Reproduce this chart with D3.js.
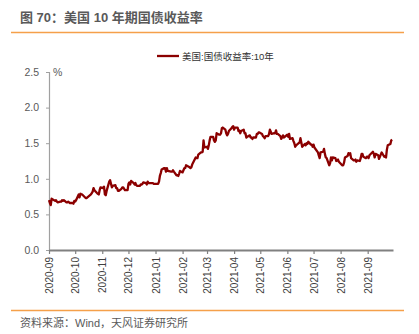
<!DOCTYPE html>
<html><head><meta charset="utf-8">
<script src="https://cdn.jsdelivr.net/npm/d3@7"></script>
<style>
html,body{margin:0;padding:0;background:#fff;}
svg{display:block;font-family:"Liberation Sans","Noto Sans CJK SC",sans-serif;}
</style></head>
<body><svg id="c" width="419" height="334"></svg>
<script>
const title = "图 70：美国 10 年期国债收益率";
const source = "资料来源：Wind，天风证券研究所";
const seriesName = "美国:国债收益率:10年";
const unitLabel = "%";
const yTicks = [0, 0.5, 1.0, 1.5, 2.0, 2.5];
const xTickLabels = ["2020-09","2020-10","2020-11","2020-12","2021-01","2021-02","2021-03","2021-04","2021-05","2021-06","2021-07","2021-08","2021-09"];

const dates = [
"2020-09-01","2020-09-02","2020-09-03","2020-09-04","2020-09-08","2020-09-09","2020-09-10","2020-09-11","2020-09-14","2020-09-15","2020-09-16","2020-09-17","2020-09-18","2020-09-21","2020-09-22","2020-09-23","2020-09-24","2020-09-25","2020-09-28","2020-09-29","2020-09-30",
"2020-10-01","2020-10-02","2020-10-05","2020-10-06","2020-10-07","2020-10-08","2020-10-09","2020-10-13","2020-10-14","2020-10-15","2020-10-16","2020-10-19","2020-10-20","2020-10-21","2020-10-22","2020-10-23","2020-10-26","2020-10-27","2020-10-28","2020-10-29","2020-10-30",
"2020-11-02","2020-11-03","2020-11-04","2020-11-05","2020-11-06","2020-11-09","2020-11-10","2020-11-12","2020-11-13","2020-11-16","2020-11-17","2020-11-18","2020-11-19","2020-11-20","2020-11-23","2020-11-24","2020-11-25","2020-11-27","2020-11-30",
"2020-12-01","2020-12-02","2020-12-03","2020-12-04","2020-12-07","2020-12-08","2020-12-09","2020-12-10","2020-12-11","2020-12-14","2020-12-15","2020-12-16","2020-12-17","2020-12-18","2020-12-21","2020-12-22","2020-12-23","2020-12-24","2020-12-28","2020-12-29","2020-12-30","2020-12-31",
"2021-01-04","2021-01-05","2021-01-06","2021-01-07","2021-01-08","2021-01-11","2021-01-12","2021-01-13","2021-01-14","2021-01-15","2021-01-19","2021-01-20","2021-01-21","2021-01-22","2021-01-25","2021-01-26","2021-01-27","2021-01-28","2021-01-29",
"2021-02-01","2021-02-02","2021-02-03","2021-02-04","2021-02-05","2021-02-08","2021-02-09","2021-02-10","2021-02-11","2021-02-12","2021-02-16","2021-02-17","2021-02-18","2021-02-19","2021-02-22","2021-02-23","2021-02-24","2021-02-25","2021-02-26",
"2021-03-01","2021-03-02","2021-03-03","2021-03-04","2021-03-05","2021-03-08","2021-03-09","2021-03-10","2021-03-11","2021-03-12","2021-03-15","2021-03-16","2021-03-17","2021-03-18","2021-03-19","2021-03-22","2021-03-23","2021-03-24","2021-03-25","2021-03-26","2021-03-29","2021-03-30","2021-03-31",
"2021-04-01","2021-04-02","2021-04-05","2021-04-06","2021-04-07","2021-04-08","2021-04-09","2021-04-12","2021-04-13","2021-04-14","2021-04-15","2021-04-16","2021-04-19","2021-04-20","2021-04-21","2021-04-22","2021-04-23","2021-04-26","2021-04-27","2021-04-28","2021-04-29","2021-04-30",
"2021-05-03","2021-05-04","2021-05-05","2021-05-06","2021-05-07","2021-05-10","2021-05-11","2021-05-12","2021-05-13","2021-05-14","2021-05-17","2021-05-18","2021-05-19","2021-05-20","2021-05-21","2021-05-24","2021-05-25","2021-05-26","2021-05-27","2021-05-28",
"2021-06-01","2021-06-02","2021-06-03","2021-06-04","2021-06-07","2021-06-08","2021-06-09","2021-06-10","2021-06-11","2021-06-14","2021-06-15","2021-06-16","2021-06-17","2021-06-18","2021-06-21","2021-06-22","2021-06-23","2021-06-24","2021-06-25","2021-06-28","2021-06-29","2021-06-30",
"2021-07-01","2021-07-02","2021-07-06","2021-07-07","2021-07-08","2021-07-09","2021-07-12","2021-07-13","2021-07-14","2021-07-15","2021-07-16","2021-07-19","2021-07-20","2021-07-21","2021-07-22","2021-07-23","2021-07-26","2021-07-27","2021-07-28","2021-07-29","2021-07-30",
"2021-08-02","2021-08-03","2021-08-04","2021-08-05","2021-08-06","2021-08-09","2021-08-10","2021-08-11","2021-08-12","2021-08-13","2021-08-16","2021-08-17","2021-08-18","2021-08-19","2021-08-20","2021-08-23","2021-08-24","2021-08-25","2021-08-26","2021-08-27","2021-08-30","2021-08-31",
"2021-09-01","2021-09-02","2021-09-03","2021-09-07","2021-09-08","2021-09-09","2021-09-10","2021-09-13","2021-09-14","2021-09-15","2021-09-16","2021-09-17","2021-09-20","2021-09-21","2021-09-22","2021-09-23","2021-09-24","2021-09-27","2021-09-28","2021-09-29"
];
const values = [
0.70,0.66,0.63,0.72,0.69,0.70,0.68,0.67,0.68,0.68,0.70,0.69,0.70,0.67,0.67,0.68,0.67,0.66,0.66,0.65,0.69,
0.68,0.70,0.78,0.74,0.79,0.78,0.78,0.73,0.73,0.74,0.75,0.78,0.80,0.82,0.87,0.84,0.80,0.79,0.78,0.84,0.88,
0.87,0.89,0.78,0.77,0.83,0.96,0.98,0.88,0.90,0.91,0.87,0.87,0.83,0.83,0.86,0.88,0.88,0.84,0.84,
0.93,0.95,0.92,0.97,0.94,0.92,0.94,0.91,0.90,0.90,0.92,0.92,0.93,0.95,0.94,0.92,0.96,0.94,0.94,0.94,0.93,0.93,
0.93,0.96,1.04,1.08,1.13,1.15,1.15,1.10,1.15,1.11,1.10,1.10,1.12,1.10,1.05,1.05,1.04,1.07,1.11,
1.09,1.12,1.15,1.15,1.19,1.17,1.16,1.15,1.16,1.20,1.30,1.29,1.29,1.34,1.37,1.37,1.38,1.54,1.44,
1.45,1.42,1.47,1.54,1.59,1.59,1.54,1.52,1.54,1.64,1.62,1.62,1.64,1.71,1.72,1.69,1.64,1.61,1.63,1.67,1.71,1.73,1.74,
1.69,1.72,1.72,1.67,1.68,1.64,1.67,1.69,1.64,1.64,1.58,1.59,1.61,1.58,1.58,1.56,1.58,1.58,1.63,1.63,1.65,1.65,
1.63,1.60,1.59,1.57,1.60,1.60,1.63,1.69,1.66,1.63,1.64,1.64,1.68,1.63,1.63,1.60,1.56,1.58,1.61,1.58,
1.62,1.59,1.63,1.56,1.57,1.53,1.50,1.45,1.47,1.50,1.51,1.57,1.51,1.45,1.49,1.47,1.50,1.49,1.52,1.48,1.48,1.45,
1.48,1.44,1.37,1.33,1.29,1.37,1.38,1.42,1.35,1.30,1.29,1.19,1.22,1.30,1.26,1.30,1.29,1.25,1.26,1.27,1.24,
1.20,1.19,1.19,1.23,1.30,1.32,1.36,1.34,1.36,1.29,1.26,1.26,1.27,1.24,1.26,1.25,1.29,1.35,1.35,1.31,1.29,1.31,
1.31,1.29,1.33,1.38,1.35,1.30,1.35,1.33,1.28,1.31,1.34,1.37,1.31,1.32,1.30,1.41,1.47,1.49,1.54,1.55
];

const parse = d3.timeParse("%Y-%m-%d");
const parseM = d3.timeParse("%Y-%m");
const data = dates.map((d,i)=>({date:parse(d), v:values[i]}));

const svg = d3.select("#c");
const gray = "#595959";
const orange = "#F5A04A";
const lineColor = "#8B0000";

// header
svg.append("text").attr("x",20).attr("y",22).attr("font-size",13).attr("font-weight","bold")
  .attr("fill",gray).text(title);
svg.append("line").attr("x1",11).attr("x2",404).attr("y1",32.5).attr("y2",32.5)
  .attr("stroke",orange).attr("stroke-width",1.5);

const x = d3.scaleTime().domain([parse("2020-09-01"), parse("2021-09-30")]).range([49, 393]);
const y = d3.scaleLinear().domain([0, 2.5]).range([250, 72]);

// y axis
const yAxis = svg.append("g").attr("transform","translate(49,0)")
  .call(d3.axisLeft(y).tickValues(yTicks).tickFormat(d3.format(".1f")).tickSize(3).tickPadding(7));
yAxis.select(".domain").attr("stroke","#A0A0A0").attr("stroke-width",1.2);
yAxis.selectAll(".tick line").attr("stroke","#A0A0A0");
yAxis.selectAll("text").attr("font-size",10.5).attr("fill",gray).attr("font-family","Liberation Sans, sans-serif");

// x axis
const xAxis = svg.append("g").attr("transform","translate(0,250)")
  .call(d3.axisBottom(x).tickValues(xTickLabels.map(parseM)).tickFormat(d3.timeFormat("%Y-%m")).tickSize(4).tickSizeOuter(0));
xAxis.select(".domain").attr("stroke","#808080").attr("stroke-width",1.8);
xAxis.selectAll(".tick line").attr("stroke","#808080").attr("stroke-width",1.2);
xAxis.selectAll("text").attr("font-size",10).attr("fill","#404040")
  .attr("text-anchor","end").attr("transform","rotate(-90)")
  .attr("x",-7).attr("y",0).attr("dy","0.35em").attr("font-family","Liberation Sans, sans-serif");

// unit
svg.append("text").attr("x",53).attr("y",y(2.5)+4).attr("font-size",10.5).attr("fill",gray).text(unitLabel);

// line
const line = d3.line().x(d=>x(d.date)).y(d=>y(d.v));
svg.append("path").datum(data).attr("d",line).attr("fill","none")
  .attr("stroke",lineColor).attr("stroke-width",2.3).attr("stroke-linejoin","round");

// legend
svg.append("line").attr("x1",157).attr("x2",179).attr("y1",56).attr("y2",56)
  .attr("stroke",lineColor).attr("stroke-width",2.3);
svg.append("text").attr("x",182).attr("y",59.5).attr("font-size",9.5).attr("fill","#333")
  .text(seriesName);

// footer
svg.append("line").attr("x1",11).attr("x2",404).attr("y1",310.5).attr("y2",310.5)
  .attr("stroke",orange).attr("stroke-width",1.5);
svg.append("text").attr("x",20).attr("y",327).attr("font-size",11).attr("fill",gray).text(source);
</script></body></html>
